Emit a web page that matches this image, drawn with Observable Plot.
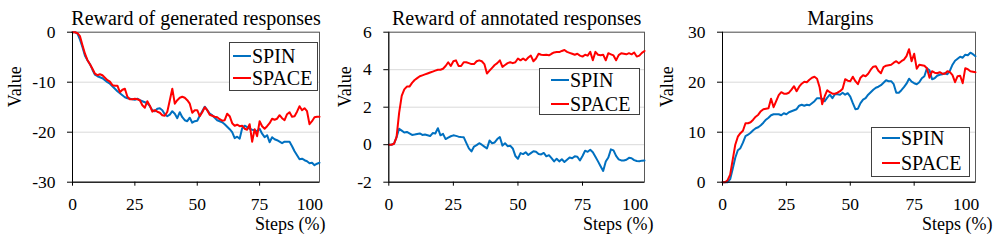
<!DOCTYPE html>
<html><head><meta charset="utf-8">
<script src="https://cdn.jsdelivr.net/npm/d3@7"></script>
<script src="https://cdn.jsdelivr.net/npm/@observablehq/plot@0.6"></script>
<style>
body{margin:0;background:#fff;}
#wrap{position:relative;width:997px;height:243px;overflow:hidden;font-family:'Liberation Serif','Times New Roman',serif;}
.pane{position:absolute;top:0;}
.pane svg text{font-family:'Liberation Serif','Times New Roman',serif !important;}
.legend{position:absolute;background:#fff;border:1px solid #404040;box-sizing:border-box;}
.legend .sw{position:absolute;height:0;border-top:2px solid;}
.legend .lb{position:absolute;font-family:'Liberation Serif','Times New Roman',serif;font-size:20px;line-height:20px;white-space:nowrap;color:#000;}
</style></head><body><div id="wrap"></div><script>
const FONT = "Liberation Serif, Times New Roman, serif";

// x positions (training steps, %)
const steps = [0,1,2,3,4,5,6,7,8,9,10,11,12,13,14,15,16,17,18,19,20,21,22,23,24,25,26,27,28,29,30,31,32,33,34,35,36,37,38,39,40,41,42,43,44,45,46,47,48,49,50,51,52,53,54,55,56,57,58,59,60,61,62,63,64,65,66,67,68,69,70,71,72,73,74,75,76,77,78,79,80,81,82,83,84,85,86,87,88,89,90,91,92,93,94,95,96,97,98,99];
const xTicks = [0, 25, 50, 75, 100];
const seriesNames = ["SPIN", "SPACE"];
const seriesColors = ["#0070C0", "#FF0000"];
const panelTitles = ["Reward of generated responses", "Reward of annotated responses", "Margins"];
const xLabel = "Steps (%)";
const yLabel = "Value";

// Panel 1: Reward of generated responses
const genTicks = [-30, -20, -10, 0];
const genSpin = [0,0,-0.3,-1.5,-3.0,-4.7,-5.6,-6.4,-7.5,-8.5,
-8.8,-9.0,-9.2,-9.6,-10.0,-10.3,-10.8,-11.3,-11.8,-12.2,
-12.6,-13.0,-13.2,-13.3,-13.4,-13.5,-13.3,-13.6,-13.8,-14.0,
-14.2,-14.8,-15.6,-15.8,-15.3,-15.2,-15.6,-16.4,-16.8,-16.5,
-15.8,-16.3,-17.2,-16.0,-17.0,-17.6,-17.8,-17.1,-18.1,-17.8,
-17.7,-16.7,-15.8,-14.9,-15.6,-16.3,-16.6,-17.1,-17.6,-17.8,
-18.0,-18.4,-18.9,-19.4,-20.0,-21.2,-20.9,-21.3,-19.2,-18.7,
-19.0,-19.3,-19.5,-19.6,-19.8,-19.3,-20.3,-21.0,-20.6,-22.0,
-21.0,-21.4,-21.6,-21.9,-22.2,-21.9,-21.9,-21.9,-22.8,-23.8,
-24.6,-25.4,-25.3,-25.6,-25.8,-26.2,-26.1,-26.6,-26.3,-26.1];
const genSpace = [0,0,-0.2,-0.8,-2.6,-4.3,-5.6,-6.4,-7.3,-8.3,
-8.6,-8.4,-8.6,-9.1,-9.6,-9.9,-10.6,-10.7,-10.7,-12.0,
-11.5,-11.3,-12.9,-13.4,-13.4,-13.3,-13.4,-13.6,-14.6,-15.1,
-13.8,-14.7,-15.9,-15.6,-15.9,-16.1,-16.6,-16.7,-15.9,-13.6,
-11.3,-14.3,-13.6,-13.1,-12.9,-13.1,-13.6,-14.3,-16.1,-15.6,
-15.6,-16.8,-16.0,-15.0,-15.6,-16.5,-16.7,-16.9,-17.0,-17.4,
-17.7,-17.6,-16.3,-16.8,-18.2,-18.7,-18.5,-18.8,-18.7,-19.3,
-19.5,-18.4,-21.9,-19.4,-20.8,-17.8,-18.8,-19.3,-18.8,-18.2,
-17.3,-17.5,-17.3,-16.6,-17.2,-17.6,-16.4,-16.0,-16.9,-16.8,
-15.9,-14.8,-15.6,-15.2,-15.8,-18.4,-17.8,-17.0,-16.9,-16.9];

// Panel 2: Reward of annotated responses
const annTicks = [-2, 0, 2, 4, 6];
const annSpin = [0,0,0.05,0.4,0.85,0.75,0.65,0.68,0.6,0.52,
0.54,0.57,0.6,0.52,0.54,0.5,0.46,0.62,0.6,0.88,
0.5,0.58,0.3,0.38,0.45,0.5,0.47,0.43,0.41,0.4,
0.1,-0.2,-0.36,-0.1,-0.02,0.08,0.0,-0.1,-0.2,0.22,
0.08,0.12,0.3,0.41,-0.05,0.08,-0.08,-0.06,-0.2,-0.6,
-0.75,-0.45,-0.5,-0.4,-0.55,-0.45,-0.35,-0.38,-0.5,-0.52,
-0.44,-0.62,-0.56,-0.72,-0.89,-0.75,-0.89,-0.78,-0.92,-0.8,
-0.68,-0.72,-0.62,-0.64,-0.84,-0.6,-0.32,-0.38,-0.27,-0.4,
-0.64,-0.89,-1.15,-1.4,-0.9,-0.68,-0.25,-0.3,-0.6,-0.78,
-0.84,-0.84,-0.8,-0.7,-0.72,-0.82,-0.87,-0.88,-0.85,-0.84];
const annSpace = [0,0,0.05,0.4,1.7,2.6,2.95,3.1,3.1,3.3,
3.45,3.55,3.65,3.7,3.75,3.8,3.85,3.9,3.95,4.0,
4.0,4.05,4.2,4.4,4.2,4.45,4.5,4.2,4.2,4.4,
4.4,4.35,4.3,4.3,4.45,4.5,4.45,4.3,3.8,3.95,
4.1,4.25,4.35,4.5,4.15,4.25,4.35,4.4,4.35,4.4,
4.6,4.5,4.6,4.5,4.65,4.75,4.45,4.6,4.85,4.8,
4.78,4.8,4.77,4.85,4.92,4.94,4.94,5.0,5.05,4.95,
4.9,4.85,4.8,4.85,4.75,4.7,4.8,4.75,4.95,4.5,
4.95,4.8,4.77,4.8,4.5,4.88,4.82,4.76,4.5,4.78,
4.88,4.85,4.82,4.88,4.82,4.92,4.7,4.75,4.9,5.0];

// Panel 3: Margins
const marTicks = [0, 10, 20, 30];
const marSpin = [0,0,0,0.6,2.7,4.9,6.4,6.8,7.9,9.2,
9.5,9.9,10.4,10.8,11.0,11.4,11.9,12.5,12.9,13.4,
13.6,13.6,13.6,13.4,13.8,13.6,14.0,14.2,14.4,14.6,
15.3,15.5,15.3,15.5,15.4,15.8,16.2,16.8,16.8,16.7,
16.2,16.9,17.5,16.8,17.6,17.6,17.5,17.9,17.5,17.8,
17.1,15.8,14.6,14.7,15.8,16.5,16.8,17.5,18.0,18.5,
18.9,19.1,19.4,19.9,20.4,20.2,20.2,19.6,17.9,17.9,
18.4,19.0,19.7,20.7,20.1,19.8,19.6,20.0,20.8,21.2,
22.8,22.4,20.6,20.8,21.3,21.5,21.6,21.8,21.6,22.3,
23.5,24.3,24.7,25.1,24.9,25.5,25.4,25.9,25.6,25.2];
const marSpace = [0,0,0.4,1.5,4.5,7.5,9.1,9.8,10.3,11.8,
11.8,12.0,12.5,13.1,13.5,14.2,14.6,14.7,14.8,16.7,
15.0,16.2,17.4,18.0,17.7,17.7,17.9,18.5,19.2,18.2,
19.1,19.7,20.1,20.0,20.5,20.9,21.1,20.7,19.0,15.6,
17.2,18.4,18.0,17.7,17.7,17.9,18.2,18.7,20.6,20.3,
20.2,21.1,20.2,19.6,20.9,21.4,21.2,21.7,22.5,23.1,
23.2,22.3,21.8,23.0,23.3,23.4,23.5,23.9,24.2,23.8,
24.2,24.5,25.2,26.6,24.2,25.7,22.7,23.5,23.4,23.3,
22.8,20.9,22.2,21.9,21.8,22.0,21.7,21.7,22.2,22.0,
21.4,20.0,21.2,21.3,19.8,22.8,22.6,22.2,22.1,22.0];

const panels = [
  {title: panelTitles[0], ticks: genTicks, values: [genSpin, genSpace],
   left: 0, width: 330, ml: 72, mr: 11, titleDx: 0, vDx: -57, sDx: 6,
   legend: {left: 229.3, top: 42, w: 88.4, h: 49.3, swL: 3, swW: 18, txL: 21.7, rows: [13.3, 35]}},
  {title: panelTitles[1], ticks: annTicks, values: [annSpin, annSpace],
   left: 330, width: 330, ml: 58.3, mr: 16, titleDx: 0, vDx: -43.3, sDx: 9,
   legend: {left: 539, top: 68, w: 101, h: 47.3, swL: 10.7, swW: 18.3, txL: 30, rows: [10.7, 35]}},
  {title: panelTitles[2], ticks: marTicks, values: [marSpin, marSpace],
   left: 660, width: 337, ml: 62, mr: 22, titleDx: -8.5, vDx: -55.3, sDx: 17,
   legend: {left: 871, top: 127.3, w: 99, h: 50, swL: 10, swW: 18, txL: 29, rows: [9.7, 34.7]}}
];

const wrap = document.getElementById("wrap");
for (const p of panels) {
  const yDomain = [p.ticks[0], p.ticks[p.ticks.length - 1]];
  const chart = Plot.plot({
    width: p.width, height: 243,
    marginLeft: p.ml, marginRight: p.mr, marginTop: 31.7, marginBottom: 61.3,
    x: {domain: [steps[0], steps[steps.length - 1]]},
    y: {domain: yDomain},
    style: {fontFamily: FONT, background: "transparent", overflow: "visible", color: "#000"},
    marks: [
      Plot.gridY(p.ticks, {stroke: "#d9d9d9", strokeOpacity: 1}),
      Plot.frame({stroke: "#595959"}),
      Plot.lineY(p.values[0], {x: steps, stroke: seriesColors[0], strokeWidth: 2}),
      Plot.lineY(p.values[1], {x: steps, stroke: seriesColors[1], strokeWidth: 2}),
      Plot.ruleX([steps[0]], {stroke: "#000"}),
      Plot.ruleY([yDomain[0]], {stroke: "#000"}),
      Plot.axisY(p.ticks, {tickSize: 5, tickPadding: 12, fontSize: 17.5, fontFamily: FONT, tickFormat: d => String(d), label: null}),
      Plot.axisX(xTicks.slice(0, -1), {tickSize: 4, tickPadding: 11, fontSize: 17.5, fontFamily: FONT, tickFormat: d => String(d), label: null}),
      Plot.axisX(xTicks.slice(-1), {tickSize: 0, tickPadding: 15, fontSize: 17.5, fontFamily: FONT, dx: -12, tickFormat: d => String(d), label: null}),
      Plot.text([p.title], {text: d => d, frameAnchor: "top", dy: -21, dx: p.titleDx, fontSize: 20, fontFamily: FONT}),
      Plot.text([yLabel], {text: d => d, frameAnchor: "left", dx: p.vDx, rotate: -90, fontSize: 18, fontFamily: FONT}),
      Plot.text([xLabel], {text: d => d, frameAnchor: "bottom-right", textAnchor: "end", dx: p.sDx, dy: 48, fontSize: 18, fontFamily: FONT})
    ]
  });
  const pane = document.createElement("div");
  pane.className = "pane";
  pane.style.left = p.left + "px";
  pane.appendChild(chart);
  wrap.appendChild(pane);

  const L = p.legend;
  const box = document.createElement("div");
  box.className = "legend";
  Object.assign(box.style, {left: L.left + "px", top: L.top + "px", width: L.w + "px", height: L.h + "px"});
  seriesNames.forEach((name, i) => {
    const sw = document.createElement("div");
    sw.className = "sw";
    Object.assign(sw.style, {left: L.swL + "px", width: L.swW + "px", top: (L.rows[i] - 1) + "px", borderTopColor: seriesColors[i]});
    const lb = document.createElement("div");
    lb.className = "lb";
    lb.textContent = name;
    Object.assign(lb.style, {left: L.txL + "px", top: (L.rows[i] - 10.2) + "px"});
    box.appendChild(sw);
    box.appendChild(lb);
  });
  wrap.appendChild(box);
}
</script></body></html>
